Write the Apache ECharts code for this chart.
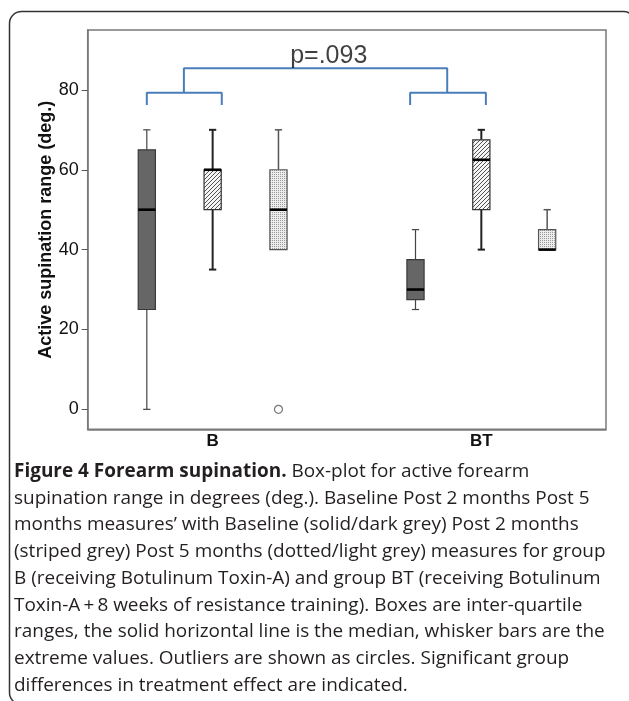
<!DOCTYPE html>
<html>
<head>
<meta charset="utf-8">
<script src="https://cdn.jsdelivr.net/npm/echarts@6/dist/echarts.min.js"></script>
<style>
html,body{margin:0;padding:0;background:#fff;}
#chart{width:629px;height:701px;}
</style>
</head>
<body>
<div id="chart"></div>
<script>
// ---------- data ----------
const groups = ['B', 'BT'];
const seriesNames = ['Baseline', 'Post 2 months', 'Post 5 months'];
// [min, Q1, median, Q3, max] per group
const baseline = [[0, 25, 50, 65, 70], [25, 27.5, 30, 37.5, 45]];
const post2 = [[35, 50, 60, 60, 70], [40, 50, 62.5, 67.5, 70]];
const post5 = [[40, 40, 50, 60, 70], [40, 40, 40, 45, 50]];
// outliers: [groupIndex, seriesIndex, value]
const outliers = [[0, 2, 0]];
const yTicks = [0, 20, 40, 60, 80];
const yTitle = 'Active supination range (deg.)';
// significance bracket (data units)
const bracketLeft = [[0.755, 76.2], [0.755, 79.3], [1.034, 79.3], [1.034, 76.2]];
const bracketRight = [[1.735, 76.2], [1.735, 79.3], [2.017, 79.3], [2.017, 76.2]];
const bracketTop = [[0.893, 79.3], [0.893, 85.4], [1.873, 85.4], [1.873, 79.3]];
const pLabel = 'p=.093';
const pLabelPos = [1.432, 88.5];
const captionBold = 'Figure 4 Forearm supination.';
const captionLines = [
  ' Box-plot for active forearm',
  'supination range in degrees (deg.). Baseline Post 2 months Post 5',
  'months measures\u2019 with Baseline (solid/dark grey) Post 2 months',
  '(striped grey) Post 5 months (dotted/light grey) measures for group',
  'B (receiving Botulinum Toxin-A) and group BT (receiving Botulinum',
  'Toxin-A\u2009+\u20098 weeks of resistance training). Boxes are inter-quartile',
  'ranges, the solid horizontal line is the median, whisker bars are the',
  'extreme values. Outliers are shown as circles. Significant group',
  'differences in treatment effect are indicated.'
];

// ---------- styles ----------
const AX_FONT = '"Liberation Sans", Arial, sans-serif';
const offsets = [-0.245, 0, 0.245];
const BOX_W = 0.064;
const CAP_W = 0.027;

function makeHatch() {
  const c = document.createElement('canvas');
  c.width = 4; c.height = 4;
  const g = c.getContext('2d');
  g.fillStyle = '#f4f4f4'; g.fillRect(0, 0, 4, 4);
  g.strokeStyle = '#555'; g.lineWidth = 1;
  g.beginPath();
  g.moveTo(-1, 5); g.lineTo(5, -1);
  g.moveTo(-1, 1); g.lineTo(1, -1);
  g.moveTo(3, 5); g.lineTo(5, 3);
  g.stroke();
  return c;
}
function makeDots() {
  const c = document.createElement('canvas');
  c.width = 2; c.height = 2;
  const g = c.getContext('2d');
  g.fillStyle = '#ececec'; g.fillRect(0, 0, 2, 2);
  g.fillStyle = '#9a9a9a'; g.fillRect(0, 0, 1, 1);
  return c;
}
const styles = [
  { fill: '#666666', stroke: '#3a3a3a', whisker: '#444', wW: 1.2 },
  { fill: { image: makeHatch(), repeat: 'repeat' }, stroke: '#333', whisker: '#222', wW: 2 },
  { fill: { image: makeDots(), repeat: 'repeat' }, stroke: '#555', whisker: '#555', wW: 1.5 }
];

function boxSeries(name, values, si) {
  const st = styles[si];
  return {
    type: 'custom',
    name: name,
    data: values.map((v, gi) => [gi + 1 + offsets[si]].concat(v)),
    encode: { x: 0, y: [1, 2, 3, 4, 5] },
    renderItem: function (params, api) {
      const x = api.value(0);
      const mn = api.coord([x, api.value(1)]);
      const q1 = api.coord([x, api.value(2)]);
      const md = api.coord([x, api.value(3)]);
      const q3 = api.coord([x, api.value(4)]);
      const mx = api.coord([x, api.value(5)]);
      const bw = api.size([BOX_W, 0])[0];
      const cw = api.size([CAP_W, 0])[0];
      const cx = mn[0];
      const ch = [];
      const ws = { stroke: st.whisker, lineWidth: st.wW };
      if (api.value(5) > api.value(4)) {
        ch.push({ type: 'line', shape: { x1: cx, y1: mx[1], x2: cx, y2: q3[1] }, style: ws });
        ch.push({ type: 'line', shape: { x1: cx - cw / 2, y1: mx[1], x2: cx + cw / 2, y2: mx[1] }, style: ws });
      }
      if (api.value(1) < api.value(2)) {
        ch.push({ type: 'line', shape: { x1: cx, y1: q1[1], x2: cx, y2: mn[1] }, style: ws });
        ch.push({ type: 'line', shape: { x1: cx - cw / 2, y1: mn[1], x2: cx + cw / 2, y2: mn[1] }, style: ws });
      }
      ch.push({ type: 'rect', shape: { x: cx - bw / 2, y: q3[1], width: bw, height: q1[1] - q3[1] },
        style: { fill: st.fill, stroke: st.stroke, lineWidth: 1.2 } });
      ch.push({ type: 'line', shape: { x1: cx - bw / 2, y1: md[1], x2: cx + bw / 2, y2: md[1] },
        style: { stroke: '#000', lineWidth: 2.6 } });
      return { type: 'group', children: ch };
    },
    z: 3
  };
}

function bracket(pts) {
  return {
    type: 'line', data: pts, symbol: 'none', silent: true,
    lineStyle: { color: '#4a7ebb', width: 2 }, z: 4
  };
}

// caption font-size fit
const mctx = document.createElement('canvas').getContext('2d');
mctx.font = '100px "Open Sans"';
const refW = mctx.measureText(captionLines[3]).width;
const capSize = 100 * 592 / refW;

const chart = echarts.init(document.getElementById('chart'), null, { renderer: 'canvas' });
const option = {
  animation: false,
  backgroundColor: '#fff',
  grid: { left: 87.7, right: 23, top: 30, bottom: 271.7, show: true, borderColor: '#7a7a7a', borderWidth: 1.5, containLabel: false, outerBoundsMode: 'none' },
  xAxis: {
    type: 'value', min: 0.535, max: 2.464,
    axisLine: { show: true, onZero: false, lineStyle: { color: '#7a7a7a', width: 1.5 } },
    axisTick: { show: false }, splitLine: { show: false },
    axisLabel: {
      customValues: [1, 2], formatter: v => groups[Math.round(v) - 1] || '',
      fontFamily: AX_FONT, fontWeight: 'bold', fontSize: 17, color: '#111', margin: 4
    }
  },
  yAxis: {
    type: 'value', min: -5, max: 95,
    name: yTitle, nameLocation: 'middle', nameGap: 33, nameMoveOverlap: false,
    nameTextStyle: { fontFamily: AX_FONT, fontWeight: 'bold', fontSize: 18, color: '#111' },
    axisLine: { show: true, onZero: false, lineStyle: { color: '#7a7a7a', width: 1.5 } },
    axisTick: { show: true, customValues: yTicks, length: 6, lineStyle: { color: '#555', width: 1 } },
    splitLine: { show: false },
    axisLabel: { customValues: yTicks, fontFamily: AX_FONT, fontSize: 18, color: '#111', margin: 9 }
  },
  series: [
    boxSeries(seriesNames[0], baseline, 0),
    boxSeries(seriesNames[1], post2, 1),
    boxSeries(seriesNames[2], post5, 2),
    {
      type: 'scatter', name: 'Outliers',
      data: outliers.map(o => [o[0] + 1 + offsets[o[1]], o[2]]),
      symbol: 'circle', symbolSize: 8,
      itemStyle: { color: '#fff', borderColor: '#555', borderWidth: 1.2 }, z: 5
    },
    bracket(bracketLeft), bracket(bracketRight), bracket(bracketTop),
    {
      type: 'scatter', data: [pLabelPos], symbolSize: 0, silent: true,
      label: { show: true, position: 'inside', formatter: pLabel, fontFamily: AX_FONT, fontSize: 25, color: '#111' }, z: 6
    }
  ],
  graphic: [
    { type: 'rect', shape: { x: 9.5, y: 11.5, width: 626, height: 693, r: 12 },
      style: { fill: null, stroke: '#333', lineWidth: 1.5 }, silent: true },
    { type: 'text', x: 14, y: 458.3,
      style: {
        text: '{b|' + captionBold + '}' + captionLines.join('\n'),
        fontFamily: '"Open Sans"', fontSize: capSize, fill: '#231f20', lineHeight: 26.7,
        rich: { b: { fontFamily: '"Open Sans"', fontWeight: 'bold', fontSize: capSize, fill: '#231f20', lineHeight: 26.7 } }
      }
    }
  ]
};
chart.setOption(option);
</script>
</body>
</html>
